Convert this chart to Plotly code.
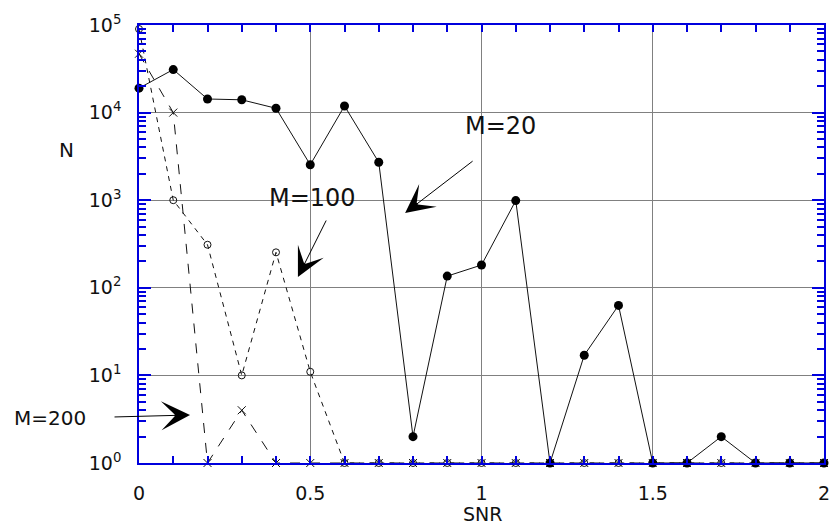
import plotly.graph_objects as go

# ---- data ----
snr = [0.0, 0.1, 0.2, 0.3, 0.4, 0.5, 0.6, 0.7, 0.8, 0.9, 1.0,
       1.1, 1.2, 1.3, 1.4, 1.5, 1.6, 1.7, 1.8, 1.9, 2.0]
n_m20 = [19000, 31000, 14300, 14000, 11200, 2540, 11900, 2710, 2, 136, 182,
         990, 1, 17, 63, 1, 1, 2, 1, 1, 1]
n_m100 = [90000, 1000, 310, 10, 254, 11, 1, 1, 1, 1, 1,
          1, 1, 1, 1, 1, 1, 1, 1, 1, 1]
n_m200 = [47000, 10000, 1, 4, 1, 1, 1, 1, 1, 1, 1,
          1, 1, 1, 1, 1, 1, 1, 1, 1, 1]
y_tick_vals = [1, 10, 100, 1000, 10000, 100000]
y_tick_text = ["10<sup>0</sup>", "10<sup>1</sup>", "10<sup>2</sup>",
               "10<sup>3</sup>", "10<sup>4</sup>", "10<sup>5</sup>"]
x_tick_vals = [0, 0.5, 1, 1.5, 2]
x_tick_text = ["0", "0.5", "1", "1.5", "2"]

FONT = "DejaVu Sans"
BLUE = "#0000dd"
GRID = "#808080"

minor_y = [m * 10 ** d for d in range(5) for m in range(2, 10)]

fig = go.Figure()

fig.add_trace(go.Scatter(
    x=snr, y=n_m200, mode="lines+markers", cliponaxis=False,
    line=dict(color="#111", width=1, dash="10px,10px"),
    marker=dict(symbol="x-thin-open", size=8, line=dict(color="#111", width=1)),
    showlegend=False))
fig.add_trace(go.Scatter(
    x=snr, y=n_m100, mode="lines+markers", cliponaxis=False,
    line=dict(color="#111", width=1, dash="5px,5px"),
    marker=dict(symbol="circle-open", size=7, color="#111", line=dict(width=1)),
    showlegend=False))
fig.add_trace(go.Scatter(
    x=snr, y=n_m20, mode="lines+markers", cliponaxis=False,
    line=dict(color="#111", width=1),
    marker=dict(symbol="circle", size=9, color="black"),
    showlegend=False))
# invisible trace for mirrored axes
fig.add_trace(go.Scatter(x=[snr[0]], y=[n_m20[0]], xaxis="x2", yaxis="y2",
                         mode="markers", marker=dict(opacity=0),
                         showlegend=False, hoverinfo="skip"))

fig.update_layout(
    width=831, height=528,
    margin=dict(l=139, r=7, t=25, b=65, autoexpand=False),
    paper_bgcolor="white", plot_bgcolor="white",
    font=dict(family=FONT, size=19, color="#111"),
    xaxis=dict(range=[0, 2], tickmode="array", tickvals=x_tick_vals,
               ticktext=x_tick_text, ticks="inside", ticklen=7,
               tickcolor=BLUE, tickwidth=1.5, automargin=False,
               showline=True, linecolor=BLUE, linewidth=1.5,
               showgrid=True, gridcolor=GRID, gridwidth=1, zeroline=False,
               ticklabelstandoff=12,
               minor=dict(dtick=0.1, tick0=0, ticks="inside", ticklen=7,
                          tickcolor=BLUE, tickwidth=1.5, showgrid=False)),
    yaxis=dict(type="log", range=[0, 5], tickmode="array",
               tickvals=y_tick_vals, ticktext=y_tick_text, automargin=False,
               ticks="inside", ticklen=12, tickcolor=BLUE, tickwidth=1.5,
               showline=True, linecolor=BLUE, linewidth=1.5,
               showgrid=True, gridcolor=GRID, gridwidth=1, zeroline=False,
               ticklabelstandoff=12,
               minor=dict(tickmode="array", tickvals=minor_y, ticks="inside",
                          ticklen=7, tickcolor=BLUE, tickwidth=1.5,
                          showgrid=False)),
    xaxis2=dict(overlaying="x", side="top", matches="x", range=[0, 2],
                tickmode="array", tickvals=x_tick_vals, showticklabels=False,
                ticks="inside", ticklen=7, tickcolor=BLUE, tickwidth=1.5,
                showline=True, linecolor=BLUE, linewidth=1.5, automargin=False,
                showgrid=False, zeroline=False,
                minor=dict(dtick=0.1, tick0=0, ticks="inside", ticklen=7,
                           tickcolor=BLUE, tickwidth=1.5, showgrid=False)),
    yaxis2=dict(overlaying="y", side="right", type="log", range=[0, 5],
                tickmode="array", tickvals=y_tick_vals, showticklabels=False,
                ticks="inside", ticklen=12, tickcolor=BLUE, tickwidth=1.5,
                showline=True, linecolor=BLUE, linewidth=1.5, automargin=False,
                showgrid=False, zeroline=False,
                minor=dict(tickmode="array", tickvals=minor_y, ticks="inside",
                           ticklen=7, tickcolor=BLUE, tickwidth=1.5,
                           showgrid=False)),
)

annotations = [
    # axis titles
    dict(text="N", xref="paper", yref="paper", x=-0.106, y=0.714,
         showarrow=False, font=dict(size=20), xanchor="center", yanchor="middle"),
    dict(text="SNR", xref="paper", yref="paper", x=0.502, y=-0.117,
         showarrow=False, font=dict(size=19), xanchor="center", yanchor="middle"),
    # labels
    dict(text="M=20", x=1.054, y=3.847, xref="x", yref="y", showarrow=False,
         font=dict(size=24), xanchor="center", yanchor="middle"),
    dict(text="M=100", x=0.508, y=3.025, xref="x", yref="y", showarrow=False,
         font=dict(size=24), xanchor="center", yanchor="middle"),
    dict(text="M=200", x=-0.130, y=0.1027, xref="paper", yref="paper",
         showarrow=False, font=dict(size=20), xanchor="center",
         yanchor="middle"),
    # arrows
    dict(text="", x=0.777, y=2.854, xref="x", yref="y", ax=69, ay=-53,
         showarrow=True, arrowhead=3, arrowsize=4.8, arrowwidth=1,
         arrowcolor="black"),
    dict(text="", x=0.464, y=2.123, xref="x", yref="y", ax=29, ay=-58,
         showarrow=True, arrowhead=3, arrowsize=4.8, arrowwidth=1,
         arrowcolor="black"),
    dict(text="", x=0.149, y=0.548, xref="x", yref="y", ax=-77, ay=2,
         showarrow=True, arrowhead=3, arrowsize=4.8, arrowwidth=1,
         arrowcolor="black"),
]
fig.update_layout(annotations=annotations)

fig.write_html("out.html")
